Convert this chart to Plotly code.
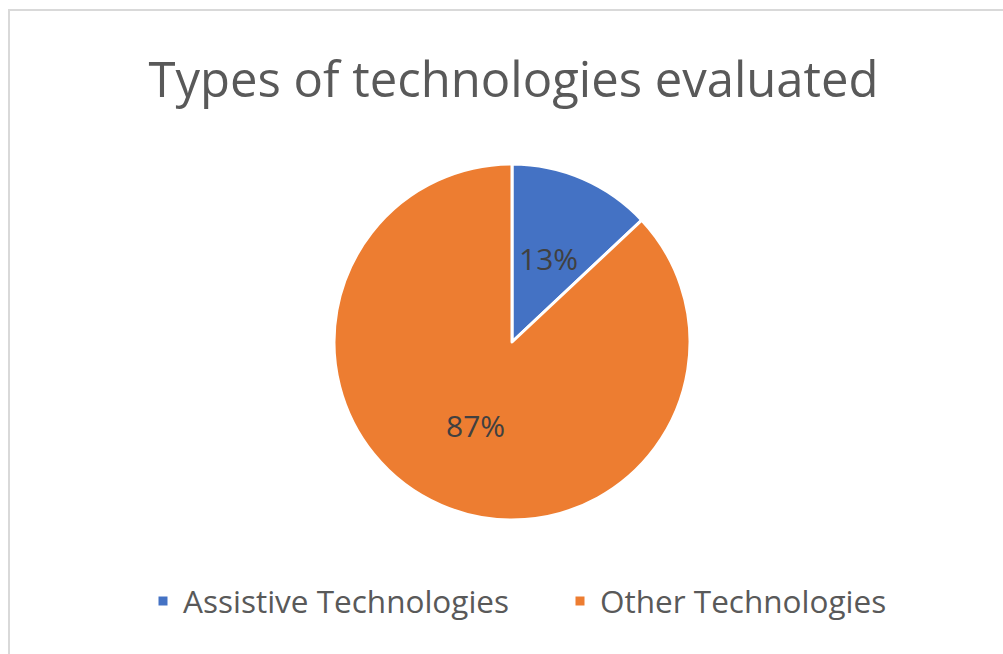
import math
import plotly.graph_objects as go

categories = ["Assistive Technologies", "Other Technologies"]
values = [13, 87]
colors = ["#4472C4", "#ED7D31"]

W, H = 1003, 654
# pie geometry (pixels)
CX, CY, R = 512, 342, 178

fig = go.Figure(go.Pie(
    labels=categories,
    values=values,
    sort=False,
    direction="clockwise",
    rotation=0,
    marker=dict(colors=colors, line=dict(color="white", width=3)),
    textinfo="none",
    domain=dict(x=[(CX - R) / W, (CX + R) / W], y=[(H - CY - R) / H, (H - CY + R) / H]),
    hoverinfo="label+percent",
))

# data labels placed at mid-angle of each slice, about half the radius out
total = sum(values)
cum = 0
annotations = []
for v in values:
    mid = (cum + v / 2) / total * 2 * math.pi
    cum += v
    rr = 0.51 * R
    px = CX + rr * math.sin(mid)
    py = CY - rr * math.cos(mid)
    annotations.append(dict(
        x=px / W, y=1 - py / H, xref="paper", yref="paper",
        text=f"{round(v / total * 100)}%", showarrow=False,
        xanchor="center", yanchor="middle",
        font=dict(family="Open Sans", size=30, color="#404040"),
    ))

fig.update_layout(
    width=W, height=H,
    margin=dict(l=0, r=0, t=0, b=0),
    paper_bgcolor="white",
    plot_bgcolor="white",
    title=dict(
        text="Types of technologies evaluated",
        x=0.512, xanchor="center",
        y=1 - 80 / H, yanchor="middle",
        font=dict(family="Open Sans", size=49, color="#595959"),
    ),
    legend=dict(
        orientation="h",
        x=143 / W, xanchor="left",
        y=1 - 601 / H, yanchor="middle",
        font=dict(family="Open Sans", size=31.5, color="#595959"),
        traceorder="normal",
        entrywidth=372,
        entrywidthmode="pixels",
    ),
    annotations=annotations,
    shapes=[dict(
        type="rect", xref="paper", yref="paper",
        x0=9 / W, x1=1.02, y0=-0.02, y1=1 - 10 / H,
        line=dict(color="#D9D9D9", width=2), fillcolor="rgba(0,0,0,0)",
        layer="below",
    )],
)

fig.write_html("out.html", config={"displayModeBar": False},
               post_script="document.body.style.margin='0';")
